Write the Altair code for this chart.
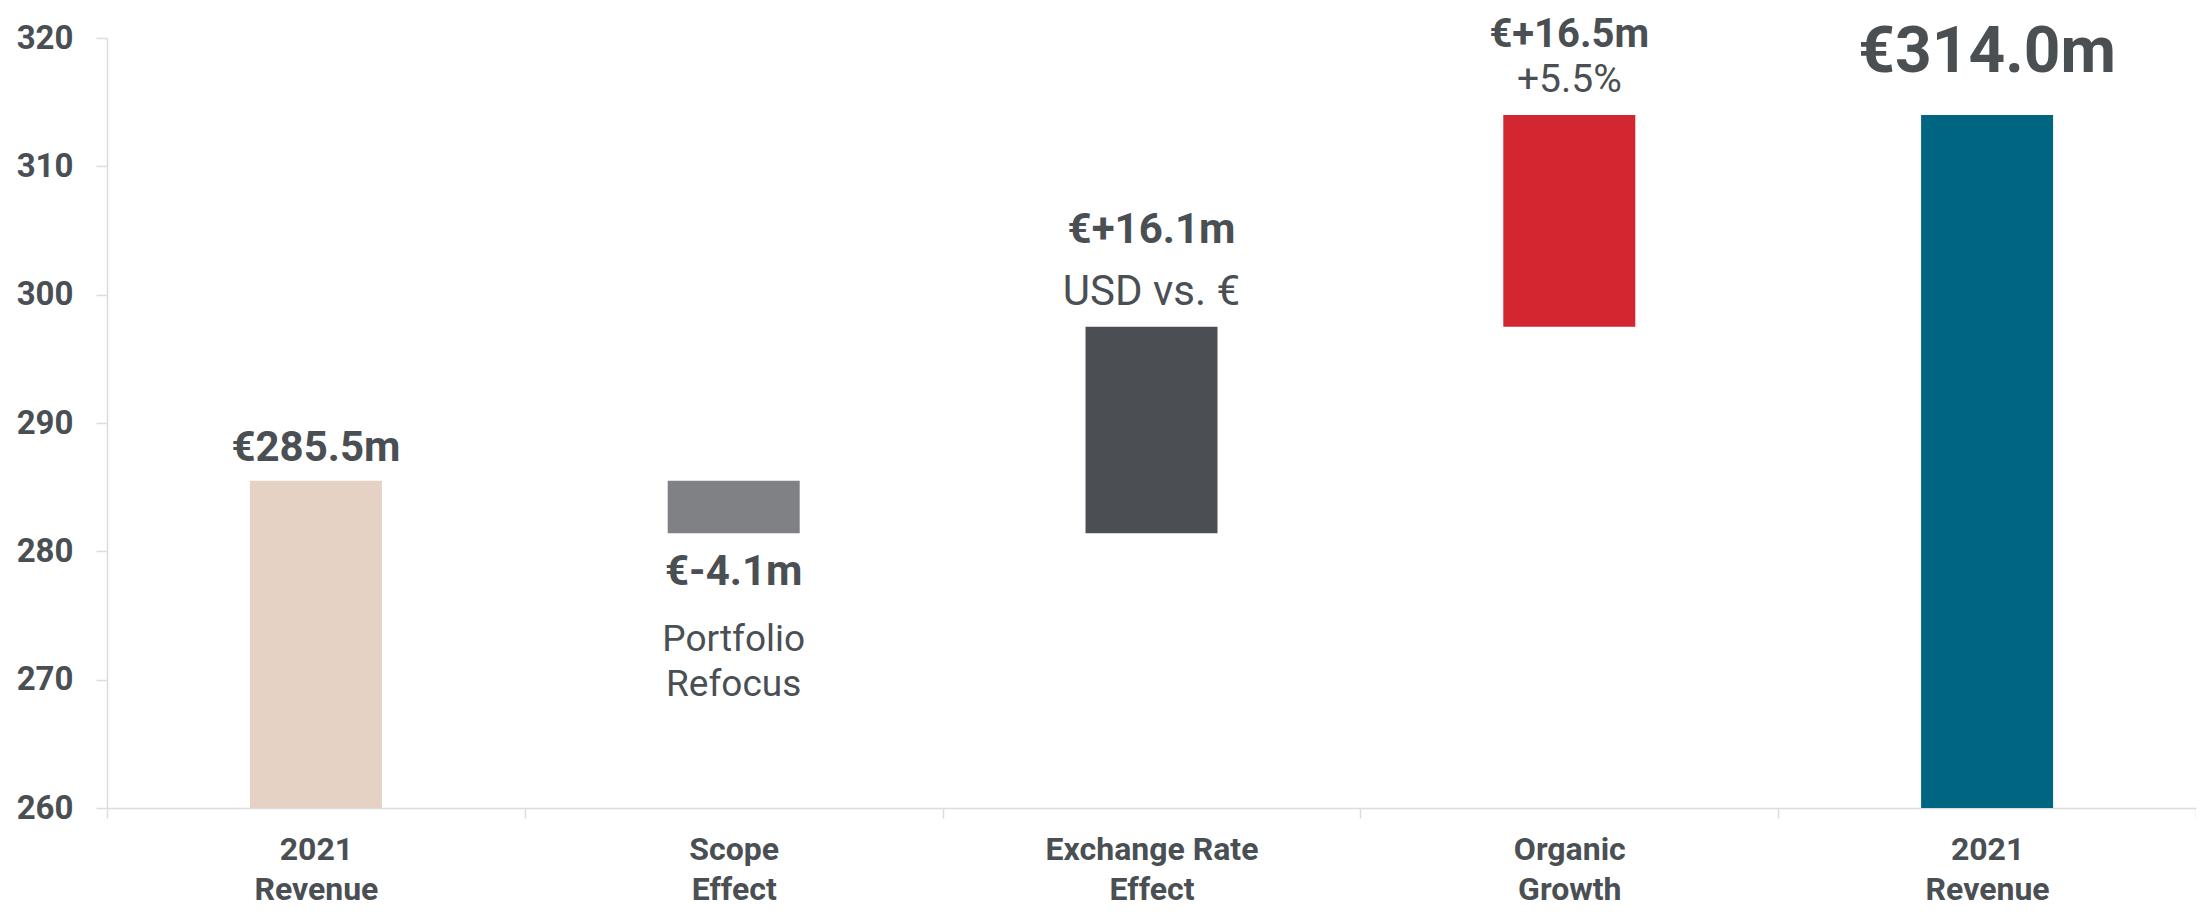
import json
import altair as alt
import pandas as pd

# ---- data ----
cat_idx = [0, 1, 2, 3, 4]
cat_labels = ["2021|Revenue", "Scope|Effect", "Exchange Rate|Effect", "Organic|Growth", "2021|Revenue"]
bar_start = [260.0, 285.5, 281.4, 297.5, 260.0]
bar_end = [285.5, 281.4, 297.5, 314.0, 314.0]
bar_kind = ["start", "scope", "fx", "organic", "end"]

ann_idx = [0, 1, 1, 2, 2, 3, 3, 4]
ann_anchor = [285.5, 281.4, 281.4, 297.5, 297.5, 314.0, 314.0, 314.0]
ann_text = ["€285.5m", "€-4.1m", "Portfolio\nRefocus", "€+16.1m", "USD vs. €",
            "€+16.5m", "+5.5%", "€314.0m"]
y_ticks = [260, 270, 280, 290, 300, 310, 320]

# ---- styles ----
TXT = "#4a4f54"
AX = "#dcdcdc"
FONT = "Roboto"
kind_colors = ["#e6d2c4", "#808184", "#4b4f54", "#d22630", "#006581"]
ann_style = [
    dict(size=42, weight="bold", dy=-20),
    dict(size=42, weight="bold", dy=52),
    dict(size=37, weight="normal", dy=118, lineHeight=45),
    dict(size=42, weight="bold", dy=-84),
    dict(size=42, weight="normal", dy=-22),
    dict(size=40, weight="bold", dy=-68),
    dict(size=39, weight="normal", dy=-23),
    dict(size=64, weight="bold", dy=-43),
]

bars_df = pd.DataFrame({"idx": cat_idx, "start": bar_start, "end": bar_end, "kind": bar_kind})

arr = json.dumps(cat_labels)
label_expr = f"isValid({arr}[datum.value]) ? split({arr}[datum.value], '|') : ''"

x_enc = alt.X(
    "idx:O",
    title=None,
    scale=alt.Scale(paddingInner=0, paddingOuter=0),
    axis=alt.Axis(
        labelExpr=label_expr,
        labelAngle=0,
        labelFont=FONT,
        labelFontSize=32,
        labelFontWeight="bold",
        labelColor=TXT,
        labelLineHeight=40,
        labelPadding=16,
        labelLimit=1000,
        tickBand="extent",
        tickSize=10,
        tickColor=AX,
        tickWidth=1.5,
        domainColor=AX,
        domainWidth=1.5,
        grid=False,
    ),
)

y_scale = alt.Scale(domain=[260, 320], nice=False, zero=False)

bars = alt.Chart(bars_df).mark_bar(size=132).encode(
    x=x_enc,
    y=alt.Y(
        "start:Q",
        title=None,
        scale=y_scale,
        axis=alt.Axis(
            values=y_ticks,
            labelFont=FONT,
            labelFontSize=33,
            labelFontWeight="bold",
            labelColor=TXT,
            labelPadding=23,
            tickSize=11,
            tickColor=AX,
            tickWidth=1.5,
            domainColor=AX,
            domainWidth=1.5,
            grid=False,
        ),
    ),
    y2="end:Q",
    color=alt.Color("kind:N", scale=alt.Scale(domain=bar_kind, range=kind_colors), legend=None),
)

layers = [bars]
for i in range(len(ann_text)):
    st = ann_style[i]
    d = pd.DataFrame({"idx": [ann_idx[i]], "anchor": [ann_anchor[i]], "text": [ann_text[i]]})
    kw = dict(
        font=FONT,
        fontSize=st["size"],
        fontWeight=st["weight"],
        color=TXT,
        align="center",
        baseline="alphabetic",
        dy=st["dy"],
        lineBreak="\n",
    )
    if "lineHeight" in st:
        kw["lineHeight"] = st["lineHeight"]
    layers.append(
        alt.Chart(d).mark_text(**kw).encode(
            x=alt.X("idx:O"),
            y=alt.Y("anchor:Q", scale=y_scale),
            text="text:N",
        )
    )

chart = (
    alt.layer(*layers)
    .properties(
        width=2089,
        height=770,
        autosize=alt.AutoSizeParams(type="none"),
        padding={"left": 99, "top": 30, "right": 0, "bottom": 101},
        background="white",
    )
    .configure_view(stroke=None)
)

chart.save("out.html", embed_options={"renderer": "svg", "actions": False})
